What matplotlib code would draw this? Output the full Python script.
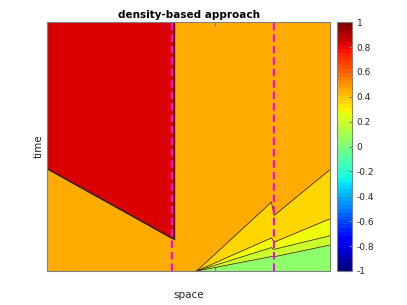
import matplotlib
matplotlib.use("Agg")
import matplotlib.pyplot as plt
from matplotlib import colors, cm

plt.rcParams["font.family"] = "DejaVu Sans"
plt.rcParams["axes.unicode_minus"] = False

# colour values of the regions (scale -1 .. 1)
val_red    = 0.84
val_orange = 0.46
val_yellow = 0.365
val_lemon  = 0.28
val_lime   = 0.195
val_green  = 0.04

# red region: lower edge (space, time) and right edge
red_x  = [0.0, 0.444, 0.447]
red_lo = [0.41, 0.13, 0.13]
red_right = 0.447

# lower-right fan of contours, sampled at these space nodes
fan_x = [0.529, 0.794, 0.803, 1.0]
edge_orange_yellow = [0.0, 0.277, 0.223, 0.406]
edge_yellow_lemon  = [0.0, 0.133, 0.116, 0.209]
edge_lemon_lime    = [0.0, 0.094, 0.087, 0.141]
edge_lime_green    = [0.0, 0.058, 0.057, 0.104]

# dashed interface positions
interfaces = [0.441, 0.803]

cbar_ticks = [-1, -0.8, -0.6, -0.4, -0.2, 0, 0.2, 0.4, 0.6, 0.8, 1]

cmap = plt.get_cmap("jet")
norm = colors.Normalize(vmin=-1, vmax=1)
c = lambda v: cmap(norm(v))

fig = plt.figure(figsize=(4.07, 3.05), dpi=100)
ax = fig.add_axes([0.1167, 0.1115, 0.693, 0.816])

ax.fill_between([0, 1], 0, 1, color=c(val_orange), lw=0)
ax.fill_between(red_x, red_lo, 1, color=c(val_red), lw=0)
ax.fill_between(fan_x, edge_yellow_lemon, edge_orange_yellow, color=c(val_yellow), lw=0)
ax.fill_between(fan_x, edge_lemon_lime, edge_yellow_lemon, color=c(val_lemon), lw=0)
ax.fill_between(fan_x, edge_lime_green, edge_lemon_lime, color=c(val_lime), lw=0)
ax.fill_between(fan_x, 0, edge_lime_green, color=c(val_green), lw=0)

# contour lines
ax.plot(red_x, red_lo, color="#202020", lw=1.0)
ax.plot([red_right, red_right], [red_lo[-1], 1], color="#202020", lw=1.0)
for e in (edge_orange_yellow, edge_yellow_lemon, edge_lemon_lime, edge_lime_green):
    ax.plot(fan_x, e, color="#202020", lw=0.5)

for xi in interfaces:
    ax.axvline(xi, color="#ff00ff", lw=1.5, linestyle=(0, (3.6, 1.9)))

ax.set_xlim(0, 1)
ax.set_ylim(0, 1)
ax.set_xticks([0.594])
ax.set_yticks([])
ax.set_xticklabels([])
ax.tick_params(axis="x", direction="in", top=True, length=3, color="#808080")
for s in ax.spines.values():
    s.set_color("#808080")
    s.set_linewidth(0.8)

ax.set_title("density-based approach", fontsize=7.5, fontweight="bold", pad=3)
ax.set_xlabel("space", fontsize=7.5, color="#262626", labelpad=10)
ax.set_ylabel("time", fontsize=7.5, color="#262626", labelpad=3)

cax = fig.add_axes([0.829, 0.1115, 0.0369, 0.816])
cb = fig.colorbar(cm.ScalarMappable(norm=norm, cmap=plt.get_cmap("jet", 64)), cax=cax, ticks=cbar_ticks)
cb.ax.set_yticklabels([f"{t:g}" for t in cbar_ticks])
cb.ax.tick_params(labelsize=6.5, length=2, direction="in", color="#808080", labelcolor="#262626", pad=3)
cb.outline.set_edgecolor("#808080")
cb.outline.set_linewidth(0.8)

fig.savefig("out.png", dpi=100)
